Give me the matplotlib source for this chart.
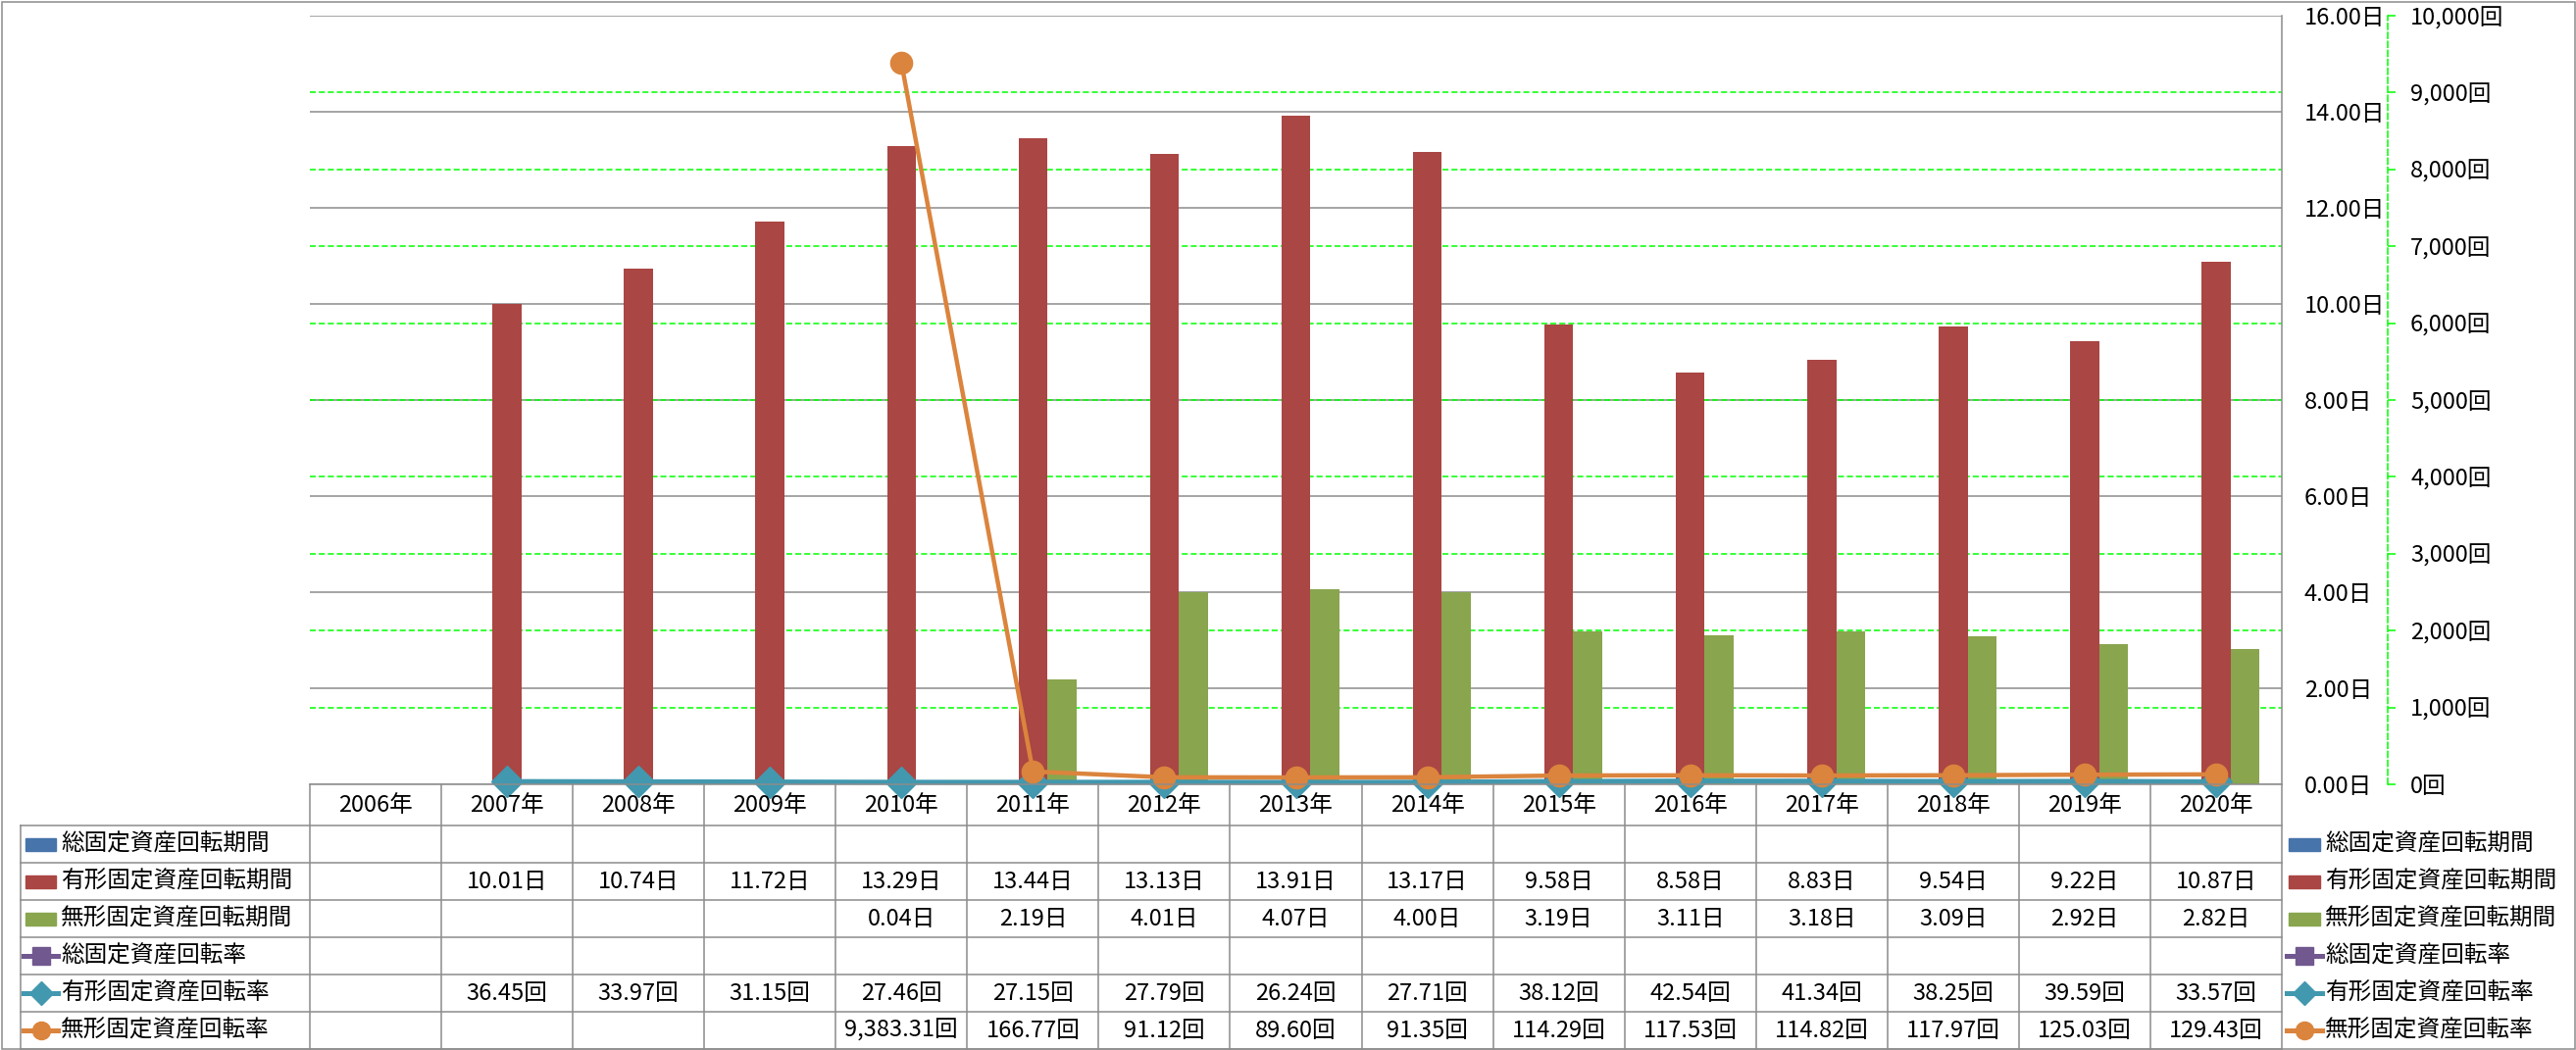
import numpy as np
import matplotlib
matplotlib.use("Agg")
import matplotlib.pyplot as plt
from matplotlib.lines import Line2D
from matplotlib.patches import Rectangle
from matplotlib.transforms import blended_transform_factory

plt.rcParams['font.family'] = ['Noto Sans CJK JP', 'DejaVu Sans']

nan = np.nan
years = ["2006年", "2007年", "2008年", "2009年", "2010年", "2011年", "2012年",
         "2013年", "2014年", "2015年", "2016年", "2017年", "2018年", "2019年", "2020年"]

# 回転期間 (日) - bars, left axis
total_period = [nan, nan, nan, nan, nan, nan, nan, nan, nan, nan, nan, nan, nan, nan, nan]
tangible_period = [nan, 10.01, 10.74, 11.72, 13.29, 13.44, 13.13, 13.91, 13.17, 9.58, 8.58, 8.83, 9.54, 9.22, 10.87]
intangible_period = [nan, nan, nan, nan, 0.04, 2.19, 4.01, 4.07, 4.00, 3.19, 3.11, 3.18, 3.09, 2.92, 2.82]

# 回転率 (回) - lines, right axis
total_rate = [nan, nan, nan, nan, nan, nan, nan, nan, nan, nan, nan, nan, nan, nan, nan]
tangible_rate = [nan, 36.45, 33.97, 31.15, 27.46, 27.15, 27.79, 26.24, 27.71, 38.12, 42.54, 41.34, 38.25, 39.59, 33.57]
intangible_rate = [nan, nan, nan, nan, 9383.31, 166.77, 91.12, 89.60, 91.35, 114.29, 117.53, 114.82, 117.97, 125.03, 129.43]

names = ["総固定資産回転期間", "有形固定資産回転期間", "無形固定資産回転期間",
         "総固定資産回転率", "有形固定資産回転率", "無形固定資産回転率"]

left_ticks = [0, 2, 4, 6, 8, 10, 12, 14, 16]
right_ticks = [0, 1000, 2000, 3000, 4000, 5000, 6000, 7000, 8000, 9000, 10000]

blue, red, green = '#4674AB', '#AA4643', '#89A54E'
purple, teal, orange = '#71588F', '#4198AF', '#DB843D'
gray = '#8C8C8C'
lime = '#00FF00'
fs = 17

W, H = 2627, 1071
fig = plt.figure(figsize=(W / 100, H / 100), dpi=100)

def fx(px):
    return px / W

def fy(py):
    return 1 - py / H

PL, PR, PT, PB = 316, 2327, 16, 800
ax = fig.add_axes([fx(PL), fy(PB), fx(PR) - fx(PL), (PB - PT) / H])
ax2 = ax.twinx()

x = np.arange(len(years))
bw = 0.22
ax.bar(x - bw, total_period, bw, color=blue, zorder=3)
ax.bar(x, tangible_period, bw, color=red, zorder=3)
ax.bar(x + bw, intangible_period, bw, color=green, zorder=3)

ax.set_xlim(-0.5, len(years) - 0.5)
ax.set_ylim(left_ticks[0], left_ticks[-1])
ax2.set_ylim(right_ticks[0], right_ticks[-1])

# gridlines (green ones put on the bar axes so they sit behind the bars)
for v in left_ticks:
    ax.axhline(v, color=gray, lw=1.1, zorder=1)
for v in right_ticks[1:-1]:
    ax.axhline(v * left_ticks[-1] / right_ticks[-1], color=lime, lw=1.1,
               ls=(0, (4, 2)), zorder=1.5)

ax2.plot(x, total_rate, color=purple, lw=3.6, marker='s', ms=14, clip_on=False)
ax2.plot(x, tangible_rate, color=teal, lw=3.6, marker='D', ms=16, clip_on=False, zorder=3)
ax2.plot(x, intangible_rate, color=orange, lw=3.2, marker='o', ms=16, clip_on=False, zorder=4)

for s in ['left', 'top', 'bottom']:
    ax.spines[s].set_visible(False)
    ax2.spines[s].set_visible(False)
ax.spines['right'].set_color(gray)
ax.spines['right'].set_linewidth(1.1)
ax2.spines['right'].set_position(('outward', 108 * 0.72))
ax2.spines['right'].set_color(lime)
ax2.spines['right'].set_linewidth(1.1)
ax2.spines['right'].set_linestyle((0, (4, 2)))

ax.yaxis.tick_right()
ax.set_yticks(left_ticks)
ax.set_yticklabels([f"{v:.2f}日" for v in left_ticks])
ax.tick_params(axis='y', length=0, pad=16.5, labelsize=fs)
ax.tick_params(axis='x', bottom=False, labelbottom=False)
ax2.set_yticks(right_ticks)
ax2.set_yticklabels([f"{v:,.0f}回" for v in right_ticks])
ax2.tick_params(axis='y', length=5.8, width=1.1, color=lime, pad=10.8, labelsize=fs)
ax2.tick_params(axis='x', bottom=False, labelbottom=False)

# data table below the plot
trans = blended_transform_factory(ax.transData, fig.transFigure)
ftr = fig.transFigure
head_top, head_bot, row_h = 800, 842, 38
row_lines = [head_bot + i * row_h for i in range(len(names) + 1)]

fig.add_artist(Line2D([-0.5, len(years) - 0.5], [fy(head_top)] * 2, transform=trans, color=gray, lw=1.1))
for yl in row_lines:
    fig.add_artist(Line2D([fx(21), fx(PR)], [fy(yl)] * 2, transform=ftr, color=gray, lw=1.1))
for b in np.arange(-0.5, len(years), 1.0):
    fig.add_artist(Line2D([b, b], [fy(head_top), fy(row_lines[-1])], transform=trans, color=gray, lw=1.1))
fig.add_artist(Line2D([fx(21), fx(21)], [fy(head_bot), fy(row_lines[-1])], transform=ftr, color=gray, lw=1.1))

for i, yr in enumerate(years):
    fig.text(i, fy((head_top + head_bot) / 2), yr, transform=trans, ha='center', va='center', fontsize=fs)

rows = [(total_period, "日"), (tangible_period, "日"), (intangible_period, "日"),
        (total_rate, "回"), (tangible_rate, "回"), (intangible_rate, "回")]
for r, (vals, unit) in enumerate(rows):
    yc = fy(row_lines[r] + row_h / 2)
    for i, v in enumerate(vals):
        if not np.isnan(v):
            fig.text(i, yc, f"{v:,.2f}{unit}", transform=trans, ha='center', va='center', fontsize=fs)

# legend keys: in table row headers and at the right
keys = [('bar', blue, None), ('bar', red, None), ('bar', green, None),
        ('line', purple, 's'), ('line', teal, 'D'), ('line', orange, 'o')]

def draw_key(x0, x1, yc, kind, col, mk):
    if kind == 'bar':
        fig.add_artist(Rectangle((fx(x0), fy(yc + 6.5)), fx(x1) - fx(x0), 13 / H,
                                 transform=ftr, color=col))
    else:
        fig.add_artist(Line2D([fx(x0 - 2), fx(x1 + 2)], [fy(yc)] * 2, transform=ftr, color=col, lw=3.6))
        fig.add_artist(Line2D([fx((x0 + x1) / 2)], [fy(yc)], transform=ftr, color=col,
                              marker=mk, ms=13 if mk != 'D' else 12))

for r, name in enumerate(names):
    yc = row_lines[r] + row_h / 2
    kind, col, mk = keys[r]
    draw_key(26, 57, yc, kind, col, mk)
    fig.text(fx(62), fy(yc), name, ha='left', va='center', fontsize=fs)
    draw_key(2334, 2366, yc, kind, col, mk)
    fig.text(fx(2371), fy(yc), name, ha='left', va='center', fontsize=fs)

# outer frame
fig.add_artist(Rectangle((fx(1.5), fy(1069.5)), fx(2625.5) - fx(1.5), 1068 / H,
                         transform=ftr, fill=False, edgecolor=gray, lw=1.1))

fig.savefig('out.png', dpi=100)
